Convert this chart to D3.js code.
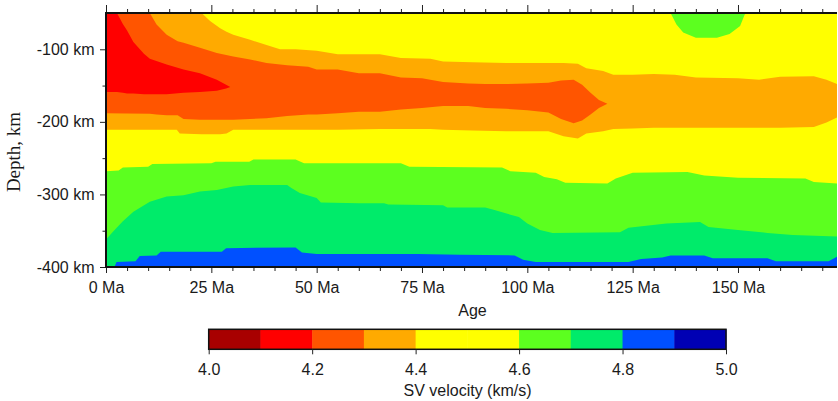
<!DOCTYPE html>
<html><head><meta charset="utf-8">
<script src="https://cdn.jsdelivr.net/npm/d3@7"></script>
<style>body{margin:0;background:#fff}</style>
</head><body>
<svg id="c" width="838" height="401"></svg>
<script>
// ---------- DATA ----------
const ageTicks = [0, 25, 50, 75, 100, 125, 150];
const ageLabels = ["0 Ma", "25 Ma", "50 Ma", "75 Ma", "100 Ma", "125 Ma", "150 Ma"];
const depthTicks = [-100, -200, -300, -400];
const depthLabels = ["-100 km", "-200 km", "-300 km", "-400 km"];
const levels = [4.0, 4.1, 4.2, 4.3, 4.4, 4.5, 4.6, 4.7, 4.8, 4.9, 5.0];
const levelTicks = [4.0, 4.2, 4.4, 4.6, 4.8, 5.0];
const levelLabels = ["4.0", "4.2", "4.4", "4.6", "4.8", "5.0"];
const bandColors = ["#a80000", "#ff0000", "#ff5500", "#ffaa00", "#ffff00", "#ffff00",
                    "#5cff1f", "#00eb6a", "#0050ff", "#0000b4"];

// velocity zones: [age Ma, upper depth km, lower depth km]
const redZone = [ // 4.1-4.2 km/s
  [0,-50,-159],[2.6,-50,-159],[4,-65,-160],[5,-74,-161],[6.5,-90,-161],[9,-106,-162],
  [10.4,-113,-162],[14.4,-121,-162],[18.4,-128,-160],[22.3,-133,-159],[26.3,-142,-157],
  [28.5,-149,-154],[29.5,-152,-152]
];
const orangeRedZone = [ // 4.2-4.3 km/s
  [0,-50,-188],[10.4,-50,-189],[12,-66,-190],[14.4,-80,-191],[17,-89,-191],[18.4,-91,-196],
  [22.3,-98,-197],[26.3,-105,-197],[30.2,-110,-197],[34.2,-114,-196],[38.1,-119,-195],
  [43,-122,-192],[48,-124,-190],[50,-128,-190],[55,-128,-188],[60,-133,-186],[65,-133,-186],
  [70,-139,-183],[75,-140,-181],[80,-145,-178],[86,-147,-178],[90,-148,-181],[95,-148,-182],
  [100,-147,-184],[105,-146,-187],[108,-143,-196],[111,-142,-202],[113,-149,-198],
  [115,-160,-190],[117,-170,-181],[119,-175,-175]
];
const orangeZone = [ // 4.3-4.4 km/s
  [0,-50,-211],[16.8,-50,-211],[17.5,-50,-216],[22.7,-50,-217],[24.7,-61,-217],[27.1,-71,-217],
  [28.6,-76,-216],[30.2,-80,-211],[34.2,-87,-211],[38.1,-94,-211],[41.3,-100,-211],
  [45,-100,-211],[50,-102,-211],[55,-107,-211],[65,-107,-210],[70,-112,-210],[77,-113,-210],
  [80,-117,-211],[87,-118,-212],[95,-119,-213],[105,-119,-213],[108.6,-119,-220],
  [112,-120,-223],[114,-126,-216],[118,-130,-213],[120.4,-135,-210],[125,-135,-209],
  [130,-134,-208],[135,-135,-208],[140,-139,-208],[150,-140,-208],[155,-142,-208],
  [160,-138,-208],[168,-137,-207],[171,-142,-201],[173.5,-148,-194]
];
// top of deeper zones: [age Ma, depth km]
const greenTop = [ // 4.6-4.7 km/s
  [0,-268],[3,-267],[4,-263],[10,-262],[11,-258],[25,-257],[26,-255],[34,-255],[35,-252],
  [45,-252],[47,-257],[70,-257],[72,-262],[94,-263],[96,-268],[102,-270],[104,-276],
  [107,-279],[109,-284],[119,-285],[121,-278],[125,-270],[138,-269],[142,-274],[150,-277],
  [166,-278],[168,-283],[173.5,-285]
];
const springTop = [ // 4.7-4.8 km/s
  [0,-362],[1.7,-351],[4,-337],[6.5,-324],[10.4,-310],[14.4,-303],[18.4,-301],[22.3,-296],
  [26.3,-294],[30.2,-289],[34.2,-287],[43,-287],[44,-291],[46,-298],[50,-305],[51,-311],
  [60,-312],[66,-312],[67,-314],[80,-315],[81,-318],[90,-318],[92,-321],[96,-328],[98,-331],
  [100,-340],[103,-349],[106,-353],[122,-352],[124,-346],[133,-340],[141,-338],[143,-345],
  [150,-349],[157,-353],[163,-356],[173.5,-358]
];
const blueTop = [ // 4.8-4.9 km/s
  [0,-400],[2,-400],[2.5,-393],[7,-392],[8,-385],[12,-384],[13,-379],[27.5,-379],[28.5,-374],
  [45,-373],[46.5,-380],[50,-382],[74,-382],[84,-383],[97,-384],[99,-390],[102,-393],
  [124,-393],[127,-389],[132,-387],[134,-384],[142,-384],[144,-388],[157,-388],[159,-392],
  [171.5,-392],[173.5,-386]
];
const greenBlob = [ // 4.6-4.7 km/s, shallow
  [134,-50],[135.4,-66],[137,-77],[140,-84],[145,-84],[148,-79],[150.5,-68],[151.6,-52],[152,-50]
];

// ---------- CHART ----------
const svg = d3.select("#c");
const x = d3.scaleLinear().domain([0, 173.5]).range([106, 837]);
const y = d3.scaleLinear().domain([-400, -50]).range([267, 13]);
const color = d3.scaleThreshold().domain(levels.slice(1, -1)).range(bandColors);
const font = "'Liberation Sans', Arial, Helvetica, sans-serif";
const txt = "#1a1a1a";

svg.append("clipPath").attr("id", "plot").append("rect")
  .attr("x", x(0)).attr("y", y(-50)).attr("width", x(173.5) - x(0)).attr("height", y(-400) - y(-50));
const g = svg.append("g").attr("clip-path", "url(#plot)");

g.append("rect").attr("x", x(0)).attr("y", y(-50))
  .attr("width", x(173.5) - x(0)).attr("height", y(-400) - y(-50)).attr("fill", color(4.5));

const below = d3.area().x(d => x(d[0])).y0(d => y(d[1])).y1(y(-400));
[[greenTop, 4.65], [springTop, 4.75], [blueTop, 4.85]].forEach(([data, v]) => {
  g.append("path").datum(data).attr("d", below).attr("fill", color(v));
});
const band = d3.area().x(d => x(d[0])).y0(d => y(d[1])).y1(d => y(d[2]));
[[orangeZone, 4.35], [orangeRedZone, 4.25], [redZone, 4.15]].forEach(([data, v]) => {
  g.append("path").datum(data).attr("d", band).attr("fill", color(v));
});
const above = d3.area().x(d => x(d[0])).y0(y(-50)).y1(d => y(d[1]));
g.append("path").datum(greenBlob).attr("d", above).attr("fill", color(4.65));

// axes
const minorAges = d3.range(0, 175, 5);
const ax = svg.append("g").attr("font-family", font);
function styleAxis(sel) {
  sel.select(".domain").remove();
  sel.selectAll("line").attr("stroke", "#222").attr("stroke-width", 1);
  sel.selectAll("text").attr("font-size", 16).attr("fill", txt).attr("font-family", font);
}
ax.append("g").attr("transform", `translate(0,${y(-400)})`)
  .call(d3.axisBottom(x).tickValues(minorAges.filter(a => a % 25)).tickSize(4).tickFormat(""))
  .call(styleAxis);
ax.append("g").attr("transform", `translate(0,${y(-400)})`)
  .call(d3.axisBottom(x).tickValues(ageTicks).tickSize(6).tickPadding(8.5)
    .tickFormat((d, i) => ageLabels[i]))
  .call(styleAxis);
ax.append("g").attr("transform", `translate(0,${y(-50)})`)
  .call(d3.axisTop(x).tickValues(minorAges.filter(a => a % 25)).tickSize(4).tickFormat(""))
  .call(styleAxis);
ax.append("g").attr("transform", `translate(0,${y(-50)})`)
  .call(d3.axisTop(x).tickValues(ageTicks).tickSize(8).tickFormat(""))
  .call(styleAxis);
ax.append("g").attr("transform", `translate(${x(0)},0)`)
  .call(d3.axisLeft(y).tickValues([-150, -250, -350]).tickSize(3.5).tickFormat(""))
  .call(styleAxis);
ax.append("g").attr("transform", `translate(${x(0)},0)`)
  .call(d3.axisLeft(y).tickValues(depthTicks).tickSize(6).tickPadding(5.5)
    .tickFormat((d, i) => depthLabels[i]))
  .call(styleAxis);

// frame
const frame = svg.append("g").attr("stroke", "#111").attr("stroke-width", 2).attr("fill", "none");
frame.append("line").attr("x1", x(0)).attr("x2", x(0)).attr("y1", y(-50) - 1).attr("y2", y(-400) + 1);
frame.append("line").attr("x1", x(0)).attr("x2", x(173.5)).attr("y1", y(-400)).attr("y2", y(-400));
frame.append("line").attr("x1", x(0)).attr("x2", x(173.5)).attr("y1", y(-50)).attr("y2", y(-50));

// axis titles
svg.append("text").attr("x", 472.5).attr("y", 316).attr("text-anchor", "middle")
  .attr("font-family", font).attr("font-size", 16).attr("fill", txt).text("Age");
svg.append("text").attr("transform", "translate(20,152) rotate(-90)").attr("text-anchor", "middle")
  .attr("font-family", "'Liberation Serif', 'Times New Roman', serif").attr("font-size", 19)
  .attr("fill", txt).text("Depth, km");

// colour bar
const cx = d3.scaleLinear().domain([4.0, 5.0]).range([208.7, 726]);
const cb = svg.append("g");
const cbTop = 329.3, cbH = 20;
cb.selectAll("rect.band").data(d3.range(levels.length - 1)).join("rect")
  .attr("x", i => cx(levels[i])).attr("y", cbTop)
  .attr("width", i => cx(levels[i + 1]) - cx(levels[i]) + 0.5).attr("height", cbH)
  .attr("fill", i => bandColors[i]);
cb.append("rect").attr("x", cx(4.0)).attr("y", cbTop).attr("width", cx(5.0) - cx(4.0)).attr("height", cbH)
  .attr("fill", "none").attr("stroke", "#111").attr("stroke-width", 1.5);
cb.append("g").attr("transform", `translate(0,${cbTop + cbH})`)
  .call(d3.axisBottom(cx).tickValues(levelTicks).tickSize(5).tickPadding(9)
    .tickFormat((d, i) => levelLabels[i]))
  .call(styleAxis);
svg.append("text").attr("x", 467.5).attr("y", 396).attr("text-anchor", "middle")
  .attr("font-family", font).attr("font-size", 16).attr("fill", txt).text("SV velocity (km/s)");
</script>
</body></html>
